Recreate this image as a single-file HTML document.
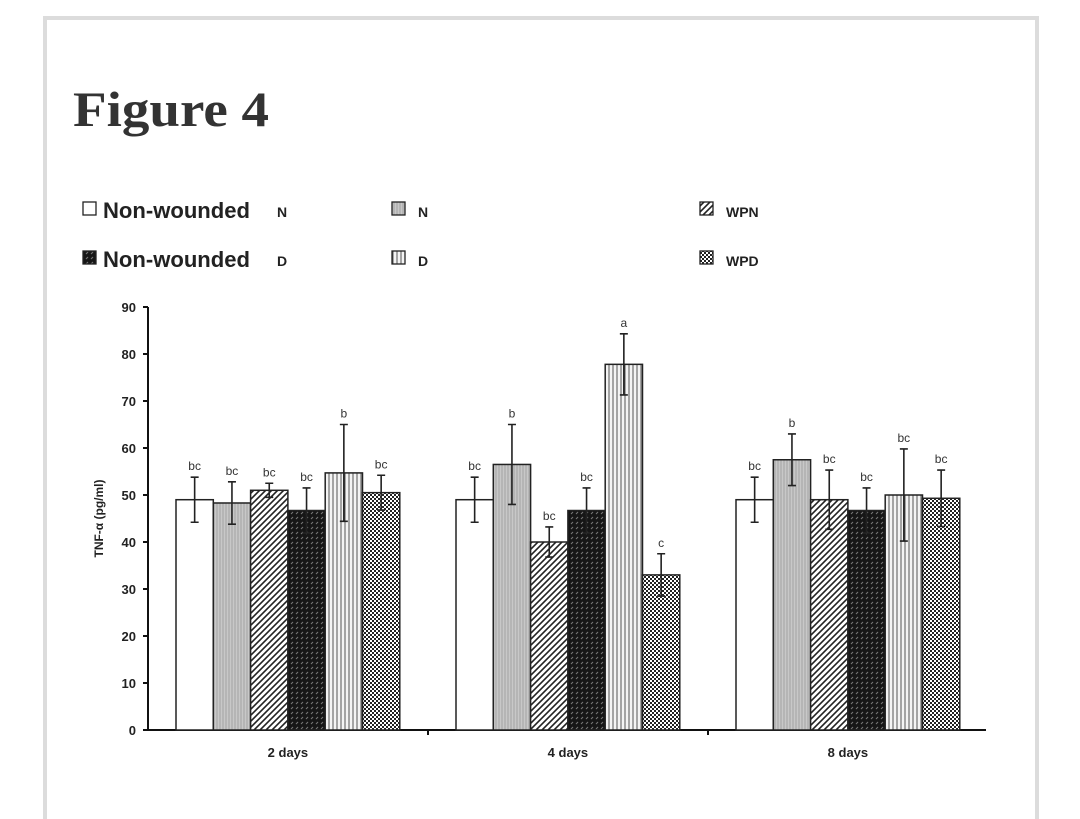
<!DOCTYPE html>
<html style="overflow:hidden;height:819px"><head><meta charset="utf-8"><style>
html,body{margin:0;background:#fff;width:1080px;height:819px;overflow:hidden}
body{position:relative;font-family:"Liberation Sans",sans-serif}
#frame{position:absolute;left:43px;top:16px;width:996px;height:803px;border:4px solid #dcdcdc;border-bottom:none;box-sizing:border-box}
#title{position:absolute;left:73px;top:80px;font-family:"Liberation Serif",serif;font-weight:bold;font-size:50px;color:#333;transform:scaleX(1.1);transform-origin:left top}
svg{position:absolute;left:0;top:0}
</style></head><body>
<div id="frame"></div>
<div id="title">Figure 4</div>
<svg width="1080" height="819">
<defs>
<pattern id="p1" width="3" height="4" patternUnits="userSpaceOnUse"><rect width="3" height="4" fill="#c8c8c8"/><line x1="1" y1="0" x2="1" y2="4" stroke="#999" stroke-width="0.8"/></pattern>
<pattern id="p2" width="6" height="6" patternUnits="userSpaceOnUse"><rect width="6" height="6" fill="#fff"/><path d="M-1,7 L7,-1 M-1,1 L1,-1 M5,7 L7,5" stroke="#222" stroke-width="1.6"/></pattern>
<pattern id="p3" width="5" height="5" patternUnits="userSpaceOnUse"><rect width="5" height="5" fill="#161616"/><path d="M1,4 L3,2" stroke="#777" stroke-width="1.1"/></pattern>
<pattern id="p4" width="4" height="4" patternUnits="userSpaceOnUse"><rect width="4" height="4" fill="#f4f4f4"/><line x1="1" y1="0" x2="1" y2="4" stroke="#555" stroke-width="1"/></pattern>
<pattern id="p5" width="4" height="4" patternUnits="userSpaceOnUse"><rect width="4" height="4" fill="#fff"/><rect width="2" height="2" fill="#222"/><rect x="2" y="2" width="2" height="2" fill="#222"/></pattern>
</defs>
<g id="legend" font-size="21" fill="#111"></g>
<g id="plot"></g>
</svg>
<script>
const categories=["2 days","4 days","8 days"];
const series=["Non-wounded N","N","WPN","Non-wounded D","D","WPD"];
const values=[[49,48.3,51,46.7,54.7,50.5],[49,56.5,40,46.7,77.8,33],[49,57.5,49,46.7,50,49.3]];
const errors=[[4.8,4.5,1.5,4.8,10.3,3.7],[4.8,8.5,3.2,4.8,6.5,4.5],[4.8,5.5,6.3,4.8,9.8,6]];
const letters=[["bc","bc","bc","bc","b","bc"],["bc","b","bc","bc","a","c"],["bc","b","bc","bc","bc","bc"]];
const yTicks=[0,10,20,30,40,50,60,70,80,90];
const fills=["#fff","url(#p1)","url(#p2)","url(#p3)","url(#p4)","url(#p5)"];
const NS="http://www.w3.org/2000/svg";
const x0=148,groupW=280,barW=37.3,off=28,y0=730,yTop=307;
const y=v=>y0-(v/90)*(y0-yTop);
function mk(t,a,p){const e=document.createElementNS(NS,t);for(const k in a)e.setAttribute(k,a[k]);(p||document.getElementById('plot')).appendChild(e);return e;}
let e=mk('line',{x1:x0,y1:yTop,x2:x0,y2:y0,stroke:'#111','stroke-width':2});

e=mk('line',{x1:x0,y1:y0,x2:986,y2:y0,stroke:'#111','stroke-width':2});

yTicks.forEach(t=>{mk('line',{x1:x0-5,y1:y(t),x2:x0,y2:y(t),stroke:'#111','stroke-width':2});
 const tx=mk('text',{x:x0-12,y:y(t)+5,'text-anchor':'end','font-size':13,'font-weight':'bold',fill:'#222'});tx.textContent=t;
 });
e=mk('text',{transform:`translate(103,${(y0+yTop)/2}) rotate(-90)`,'text-anchor':'middle','font-size':12,'font-weight':'bold',fill:'#222'});
e.textContent='TNF-α (pg/ml)';
categories.forEach((c,g)=>{
 const gx=x0+g*groupW;
 if(g>0)mk('line',{x1:gx,y1:y0,x2:gx,y2:y0+5,stroke:'#111','stroke-width':2});
 const t=mk('text',{x:gx+off+3*barW,y:757,'text-anchor':'middle','font-size':13,'font-weight':'bold',fill:'#222'});t.textContent=c;
 
 values[g].forEach((v,i)=>{
  const bx=gx+off+i*barW,cx=bx+barW/2;
  const r=mk('rect',{x:bx,y:y(v),width:barW,height:y0-y(v),fill:fills[i],stroke:'#222','stroke-width':1.5});
  
  const er=errors[g][i];
  mk('path',{d:`M${cx},${y(v+er)}V${y(v-er)}M${cx-4},${y(v+er)}H${cx+4}M${cx-4},${y(v-er)}H${cx+4}`,stroke:'#222','stroke-width':1.6,fill:'none'});
  const l=mk('text',{x:cx,y:y(v+er)-7,'text-anchor':'middle','font-size':12,fill:'#333'});l.textContent=letters[g][i];
  
 });
});
const leg=document.getElementById('legend');
const lpos=[[83,210],[83,259],[392,210],[392,259],[700,210],[700,259]];
const order=[0,3,1,4,2,5];
const main=["Non-wounded","Non-wounded","","","",""];
const sub=["N","D","N","D","WPN","WPD"];
order.forEach((si,k)=>{
 const [lx,ly]=lpos[k];
 const s=mk('rect',{x:lx,y:ly-8,width:13,height:13,fill:fills[si],stroke:'#222','stroke-width':1.3},leg);
 
 if(main[k]){const t=mk('text',{x:lx+20,y:ly+8,'font-size':22,'font-weight':'bold',fill:'#222',textLength:147,lengthAdjust:'spacingAndGlyphs'},leg);t.textContent=main[k];
  }
 const t2=mk('text',{x:main[k]?lx+194:lx+26,y:ly+7,'font-size':14,'font-weight':'bold',fill:'#222'},leg);t2.textContent=sub[k];
 
});
</script>
</body></html>
